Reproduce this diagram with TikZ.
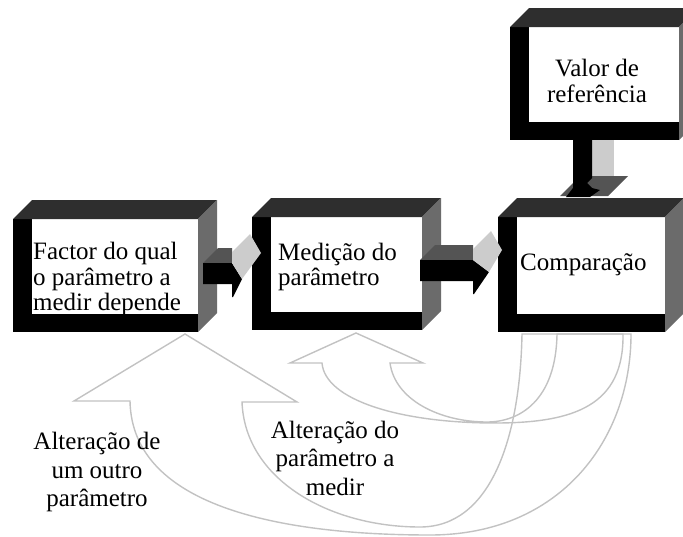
\documentclass[tikz,border=0pt]{standalone}
\usepackage{fontspec}
\setmainfont{Liberation Serif}
\definecolor{topo}{gray}{0.18}
\definecolor{lado}{gray}{0.42}
\definecolor{toposeta}{gray}{0.33}
\definecolor{claro}{gray}{0.8}
\definecolor{linha}{gray}{0.76}
% caixa 3D: face da frente de (#1,#2) a (#3,#4)
\newcommand{\bloco}[4]{%
  \fill[black] (#1,#2) rectangle (#3,#4);
  \fill[white] (#1+19,#2) rectangle (#3,#4-18);
  \fill[topo] (#1,#2) -- (#1+19,#2-19) -- (#3+19,#2-19) -- (#3,#2) -- cycle;
  \fill[lado] (#3,#2) -- (#3+19,#2-19) -- (#3+19,#4-19) -- (#3,#4) -- cycle;}
% seta 3D para a direita: inicio #1, base da ponta #2, topo #3, ponta (#4,#5)
\newcommand{\setadir}[5]{%
  \fill[toposeta] (#1,#3) -- (#1+15,#3-15) -- (#2,#3-15) -- (#2,#3) -- cycle;
  \fill[black] (#1,#3) -- (#2,#3) -- (#2+#4,#3+#5) -- (#2+1,#3+34) -- (#2,#3+34) -- (#2,#3+21) -- (#1,#3+21) -- cycle;
  \fill[claro] (#2,#3-11) -- (#2+18,#3-29) -- (#2+29,#3-10) -- (#2+#4,#3+#5) -- (#2,#3) -- cycle;}

\begin{document}
\begin{tikzpicture}[x=1pt,y=-1pt,
  caixatexto/.style={font=\fontsize{25}{25.5}\selectfont, inner sep=0pt},
  rotulo/.style={font=\fontsize{25}{28.5}\selectfont, align=center, inner sep=0pt},
  curva/.style={draw=linha, line width=1.4pt, line join=miter}]
\useasboundingbox (0,0) rectangle (683,536);

% seta de cima para baixo
\fill[claro] (592,125) rectangle (614,178);
\fill[toposeta] (560,196) -- (580,176) -- (628,176) -- (608,196) -- cycle;
\fill[black] (573,140) -- (592,140) -- (592,178) -- (587,183) -- (592,188) -- (600,190)
  -- (590,197) -- (566,197) -- (573,188) -- cycle;

% caixas
\bloco{13}{219}{198}{332}
\bloco{252}{217}{422}{330}
\bloco{498}{217}{665}{332}
\bloco{510}{27}{679}{140}

\node[caixatexto, anchor=west, align=left] (factor) at (33,279) {Factor do qual\\o parâmetro a\\medir depende};
\node[caixatexto, anchor=west, align=left] (medicao) at (278,267) {Medição do\\parâmetro};
\node[caixatexto, anchor=west] (comparacao) at (520,265) {Comparação};
\node[caixatexto, align=center] (valor) at (597,81) {Valor de\\referência};

% setas entre caixas
\setadir{203}{232}{263}{10}{16}
\setadir{420}{473}{260}{16}{12}

% setas curvas de retorno
\coordinate (pontaA) at (185,334);
\coordinate (pontaB) at (356,333);
\draw[curva] (pontaA) -- (74,401) -- (130,401)
  .. controls (132,510) and (290,535) .. (430,535)
  .. controls (560,535) and (631,440) .. (631,334)
  -- (522,334)
  .. controls (520,440) and (490,527) .. (420,527)
  .. controls (330,527) and (245,480) .. (242,402)
  -- (297,402) -- cycle;
\draw[curva] (pontaB) -- (290,363) -- (322,363)
  .. controls (325,400) and (400,423) .. (495,423)
  .. controls (575,423) and (624,405) .. (623,334)
  -- (557,334)
  .. controls (556,400) and (520,422) .. (487,422)
  .. controls (440,422) and (395,400) .. (390,363)
  -- (423,363) -- cycle;

\node[rotulo] (outro) at (97,472) {Alteração de\\um outro\\parâmetro};
\node[rotulo] (medir) at (335,458) {Alteração do\\parâmetro a\\medir};
\end{tikzpicture}
\end{document}
